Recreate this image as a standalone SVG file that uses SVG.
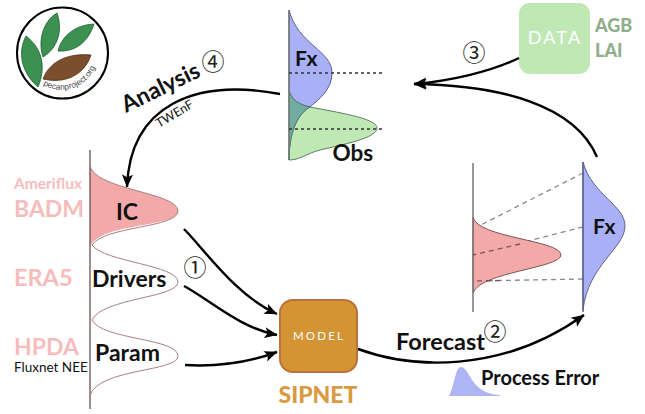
<svg xmlns="http://www.w3.org/2000/svg" width="645" height="414" viewBox="0 0 645 414">
<style>
text{font-family:"Lato","Liberation Sans",sans-serif;fill:#111}
.b{font-weight:700}
.num{font-family:"Noto Sans CJK JP","DejaVu Sans",sans-serif;font-size:23px;fill:#222}
.pink{fill:#f6bcbc;font-weight:700}
.sage{fill:#8fae8a;font-weight:900;font-size:18px}
.axis{fill:none;stroke:#777;stroke-width:1.5}
.dot{stroke:#333;stroke-width:1.3;stroke-dasharray:3 3;fill:none}
.dash{stroke:#8a8a8a;stroke-width:1.3;stroke-dasharray:5 4;fill:none}
.con{fill:none;stroke:#000;stroke-width:2.4;marker-end:url(#arrow)}
.leaf{fill:#3c9150;stroke:#1e5a30;stroke-width:.8}
</style>
<defs>
<marker id="arrow" markerUnits="userSpaceOnUse" markerWidth="14" markerHeight="12" refX="12.5" refY="6" orient="auto">
<path d="M0,0.5 L13,6 L0,11.5 L3,6 z" fill="#000"/>
</marker>
<path id="logoArc" d="M43,85 A37,37 0 0 0 98,56"/>
</defs>
<g id="logo">
<circle cx="62.5" cy="53" r="45.5" fill="#fff" stroke="#000" stroke-width="2"/>
<path class="leaf" d="M26,36 C16,55 24,75 38,87 C46,68 43,49 26,36z"/>
<path class="leaf" d="M57,13 C42,22 38,42 43,57 C58,48 63,30 57,13z"/>
<path class="leaf" d="M94,24 C76,25 62,35 58,51 C76,52 88,42 94,24z"/>
<path d="M91,55 C70,53 50,60 43,79 C64,84 84,76 91,55z" fill="#7c4f2c" stroke="#4a2d16" stroke-width=".8"/>
<text font-size="8.300" style="font-family:'Liberation Sans',sans-serif;fill:#444"><textPath href="#logoArc">pecanproject.org</textPath></text>
</g>
<g id="analysis-dist">
<path d="M289,10 C298,45 332,50 332,73 C332,90 318,100 310,107 C300,105 291,100 289,90z" fill="#aab0f5" stroke="#5c6090"/>
<path d="M289,160 C289,135 296,115 310,107 C335,112 377,118 377,128 C377,138 345,144 320,150 C305,154 300,160 289,160z" fill="#bfe8b5" stroke="#5c8060"/>
<path d="M289,90 C291,100 300,105 310,107 C296,115 289,135 289,160z" fill="#71ad9e" stroke="#4d7c70"/>
<path class="axis" d="M289,10V160"/>
<path class="dot" d="M289,73H383M289,129H383"/>
<text class="b" x="295" y="66" font-size="21">Fx</text>
<text class="b" x="332.500" y="161" font-size="22.500">Obs</text>
</g>
<g id="initial-dist">
<path d="M90,165 C93,190 178,192 178,211 C178,228 100,222 90,247z" fill="#f4a9a9"/>
<path d="M90,150V409" stroke="#6b5050" stroke-width="1.3" fill="none"/>
<path d="M90,165 C93,190 178,192 178,211 C178,228 104,226 92,245 C104,262 178,265 178,282 C178,298 102,298 92,320 C102,340 178,338 178,356 C178,372 100,368 90,395" fill="none" stroke="#a88080" stroke-width="1"/>
<text class="b" x="116" y="220" font-size="23">IC</text>
<text class="b" x="92" y="287" font-size="23">Drivers</text>
<text class="b" x="95" y="361" font-size="23">Param</text>
<text class="pink" x="14" y="189" font-size="15.500">Ameriflux</text>
<text class="pink" x="14" y="217" font-size="23">BADM</text>
<text class="pink" x="14" y="286" font-size="23.500">ERA5</text>
<text class="pink" x="14" y="355" font-size="23">HPDA</text>
<text x="14" y="372" font-size="13.500">Fluxnet NEE</text>
</g>
<g id="model">
<rect x="280" y="300" width="77" height="72" rx="13" fill="#d49433" stroke="#b9733a" stroke-width="2"/>
<text x="319" y="340" text-anchor="middle" font-size="11.500" letter-spacing="2.200" style="fill:#fff">MODEL</text>
<text x="318" y="403" text-anchor="middle" font-size="23" font-weight="900" style="fill:#d99b42">SIPNET</text>
</g>
<g id="forecast-dist">
<path class="dash" d="M583,173L473,229M583,227L473,255M583,279L473,281"/>
<path d="M473,217 C477,238 561,240 561,255 C561,268 480,272 473,293z" fill="#f4a9a9" stroke="#7a5555"/>
<path class="axis" d="M473,163V312"/>
<path class="dash" d="M520,244L473,255M500,280.500L473,281" style="stroke:#7a5555"/>
<path d="M583,162 C592,195 625,205 625,226 C625,248 588,265 583,310z" fill="#aab0f5" stroke="#5c6090"/>
<path d="M583,162V312" fill="none" stroke="#5c6090" stroke-width="1.5"/>
<text class="b" x="593" y="234" font-size="21">Fx</text>
</g>
<g id="data">
<rect x="519" y="3" width="71" height="71" rx="11" fill="#bfe8b5"/>
<text x="555" y="44" text-anchor="middle" font-size="18" letter-spacing="2.200" style="fill:#fff">DATA</text>
<text class="sage" x="595" y="32">AGB</text>
<text class="sage" x="595" y="57">LAI</text>
</g>
<g id="process-error">
<path d="M449,396 C455,385 455,367 461,367 C470,367 470,394 500,395 L500,396z" fill="#aeb4f4"/>
<text class="b" x="481" y="385" font-size="20">Process Error</text>
</g>
<g id="connectors">
<path class="con" d="M280,94 C195,78 130,105 127,187"/>
<path class="con" d="M184,229 C205,250 235,295 277,314"/>
<path class="con" d="M184,286 C210,300 240,328 277,335"/>
<path class="con" d="M185,365 C220,367 250,362 277,352"/>
<path class="con" d="M358,349 C410,368 500,375 584,315"/>
<path class="con" d="M597,157 C575,105 500,85 414,84"/>
<path class="con" d="M519,58 C490,72 450,81 414,84"/>
</g>
<g id="labels">
<text class="b" font-size="23" transform="translate(126,113) rotate(-26)">Analysis</text>
<text font-size="12.500" transform="translate(159,128) rotate(-31)">TWEnF</text>
<text class="b" x="396" y="350" font-size="23.500">Forecast</text>
<text class="num" x="213" y="70" text-anchor="middle">④</text>
<text class="num" x="195" y="276" text-anchor="middle">①</text>
<text class="num" x="495" y="340" text-anchor="middle">②</text>
<text class="num" x="474" y="61" text-anchor="middle">③</text>
</g>
</svg>
